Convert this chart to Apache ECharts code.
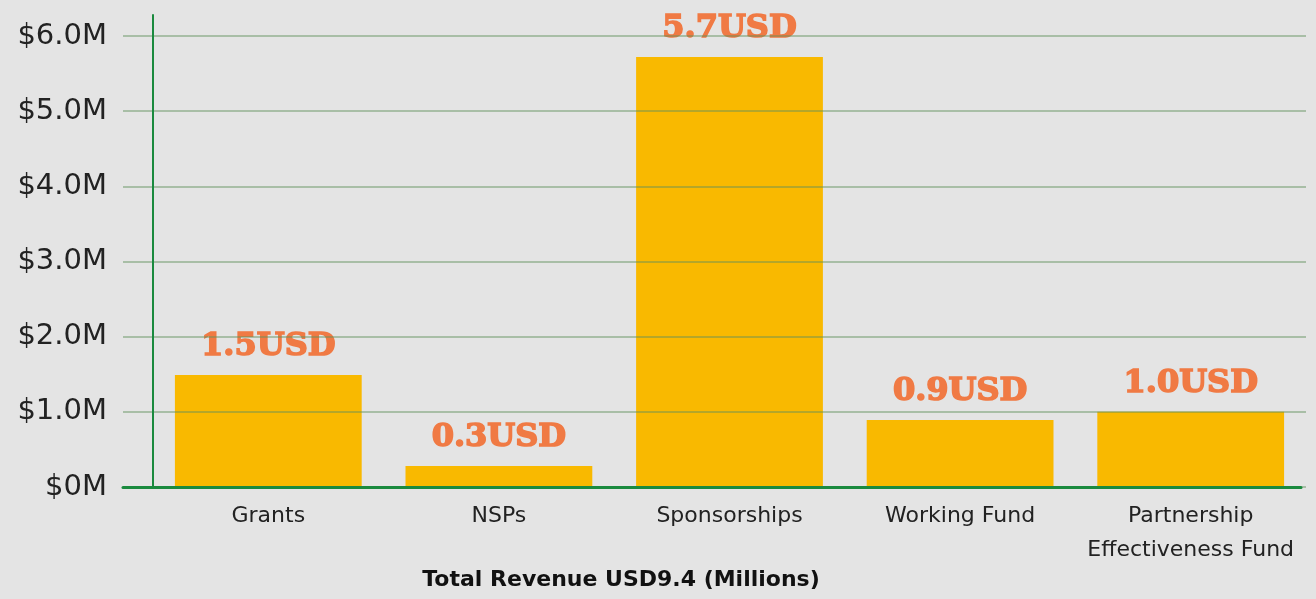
<!DOCTYPE html>
<html>
<head>
<meta charset="utf-8">
<script src="https://cdn.jsdelivr.net/npm/echarts@6/dist/echarts.min.js"></script>
<style>
html,body{margin:0;padding:0;background:#e4e4e4;}
#chart{width:1316px;height:599px;}
</style>
</head>
<body>
<div id="chart"></div>
<script>
var categories = ['Grants', 'NSPs', 'Sponsorships', 'Working Fund', 'Partnership\nEffectiveness Fund'];
var revenue = [1.49, 0.28, 5.72, 0.89, 1.0];
var yTicks = [0, 1, 2, 3, 4, 5, 6];
var axisTitle = 'Total Revenue USD9.4 (Millions)';

var chart = echarts.init(document.getElementById('chart'));
var green = '#1a8a3e';
var gridColor = 'rgba(95,145,90,0.45)';
chart.setOption({
  backgroundColor: '#e4e4e4',
  animation: false,
  title: {
    text: axisTitle,
    left: 616, top: 564, textAlign: 'center',
    textStyle: {fontFamily: 'DejaVu Sans', fontWeight: 'bold', fontSize: 22, color: '#111'}
  },
  grid: [
    {left: 153, right: 10, top: 36, bottom: 112},
    {left: 123, right: 15, top: 15, bottom: 112}
  ],
  xAxis: [
    {
      type: 'category', gridIndex: 0, data: categories, z: 3,
      axisLine: {show: false},
      axisTick: {show: false},
      axisLabel: {
        margin: 12, lineHeight: 34, fontSize: 22, color: '#222',
        fontFamily: 'DejaVu Sans', interval: 0
      }
    },
    {
      type: 'value', gridIndex: 1, min: 0, max: 1, z: 4,
      axisLine: {show: true, onZero: false, lineStyle: {color: green, width: 3}},
      axisTick: {show: false}, axisLabel: {show: false}, splitLine: {show: false}
    }
  ],
  yAxis: [
    {
      type: 'value', gridIndex: 0, min: yTicks[0], max: yTicks[yTicks.length - 1], interval: 1, z: 3,
      axisLine: {show: false},
      axisTick: {show: true, length: 30, lineStyle: {color: gridColor, width: 2}},
      splitLine: {show: true, lineStyle: {color: gridColor, width: 2}},
      axisLabel: {
        margin: 46, fontSize: 29, color: '#222', fontFamily: 'DejaVu Sans',
        formatter: function (v) { return v === 0 ? '$0M' : '$' + v.toFixed(1) + 'M'; }
      }
    },
    {
      type: 'value', gridIndex: 1, min: 0, max: 1, offset: -30, z: 4,
      axisLine: {show: true, onZero: false, lineStyle: {color: green, width: 2}},
      axisTick: {show: false}, axisLabel: {show: false}, splitLine: {show: false}
    }
  ],
  series: [{
    type: 'bar', xAxisIndex: 0, yAxisIndex: 0,
    data: revenue,
    barWidth: '81%',
    itemStyle: {color: '#f9b900'},
    label: {
      show: true, position: 'top', distance: 12,
      color: '#f07a44', fontSize: 32, fontWeight: 'bold',
      fontFamily: 'DejaVu Serif',
      textBorderColor: '#f07a44', textBorderWidth: 1.6,
      formatter: function (p) { return p.value.toFixed(1) + 'USD'; }
    }
  }]
});
</script>
</body>
</html>
